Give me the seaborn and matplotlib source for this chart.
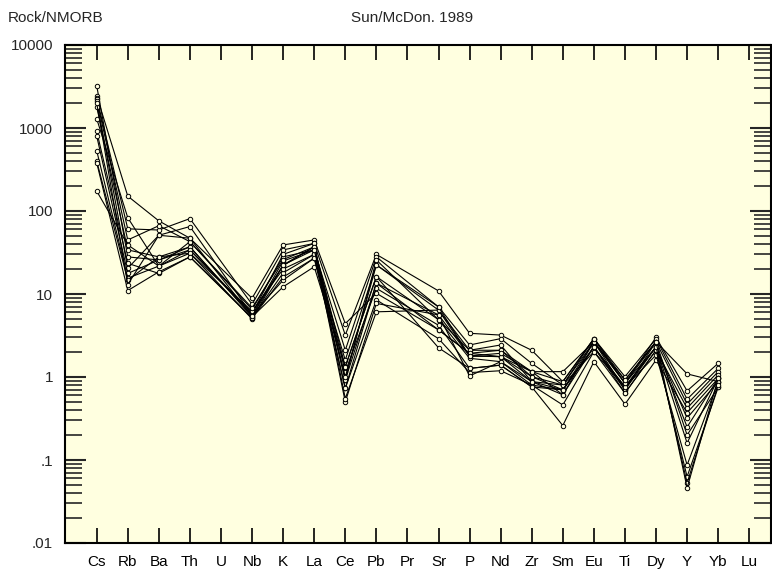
import matplotlib
matplotlib.use("Agg")
import matplotlib.pyplot as plt
import matplotlib.ticker as mticker
import seaborn as sns
import numpy as np
import pandas as pd

# element order of the spider diagram (U, Pr, Lu carry no data)
elements = ["Cs", "Rb", "Ba", "Th", "U", "Nb", "K", "La", "Ce", "Pb", "Pr",
            "Sr", "P", "Nd", "Zr", "Sm", "Eu", "Ti", "Dy", "Y", "Yb", "Lu"]
measured = ["Cs", "Rb", "Ba", "Th", "Nb", "K", "La", "Ce", "Pb",
            "Sr", "P", "Nd", "Zr", "Sm", "Eu", "Ti", "Dy", "Y", "Yb"]

# rock / N-MORB ratios, one list per sample, in the order of `measured`
s1 = [3236, 28, 25.7, 34, 6.0, 22, 37, 0.92, 13.5, 5.6, 1.79, 1.76, 1.01, 0.70, 2.3, 0.76, 2.3, 0.25, 0.96]
s2 = [2450, 151, 76, 47, 8.9, 39, 44.8, 4.4, 10.2, 3.7, 1.93, 2.1, 1.16, 1.16, 2.66, 0.92, 2.66, 1.09, 0.88]
s3 = [2317, 61, 59, 81, 7.5, 34, 40.7, 3.2, 30, 10.9, 3.36, 3.2, 2.1, 0.88, 2.9, 0.84, 3.0, 0.68, 1.46]
s4 = [2218, 44.8, 66.5, 42.7, 6.5, 28, 34, 2.1, 28, 7.0, 2.43, 2.9, 1.46, 0.80, 2.9, 1.01, 2.9, 0.54, 1.27]
s5 = [2115, 20.4, 51, 65, 5.6, 14.7, 27, 1.6, 22.4, 6.4, 2.1, 2.43, 0.88, 0.61, 2.66, 0.70, 2.66, 0.47, 1.16]
s6 = [1806, 34, 28, 37, 5.3, 12.2, 21.3, 1.33, 16.2, 4.9, 1.68, 1.53, 0.80, 0.46, 2.02, 0.64, 2.1, 0.42, 1.06]
s7 = [1294, 83, 21.7, 31, 5.0, 22.4, 37, 1.16, 11.7, 4.2, 1.27, 1.39, 0.76, 0.26, 1.53, 0.47, 1.6, 0.37, 0.96]
s8 = [912, 23.4, 17.7, 28, 5.2, 18, 30, 0.73, 8.5, 2.9, 1.13, 1.19, 0.80, 0.70, 2.3, 0.76, 2.3, 0.32, 0.88]
s9 = [801, 17.7, 25.7, 37, 5.5, 25, 34, 0.50, 7.7, 5.6, 1.03, 1.53, 0.88, 0.80, 2.66, 0.84, 2.66, 0.20, 0.75]
s10 = [533, 15.5, 21.7, 34, 5.8, 30, 40.7, 0.55, 6.1, 6.4, 1.79, 1.76, 1.16, 0.61, 2.3, 0.70, 2.3, 0.16, 0.96]
s11 = [400, 14.7, 28, 31, 6.2, 20, 30, 0.92, 25.7, 4.9, 2.1, 2.1, 1.01, 0.80, 2.02, 0.76, 1.84, 0.087, 0.88]
s12 = [382, 11, 18.5, 28, 5.1, 16, 27, 0.73, 13.5, 3.7, 1.93, 1.76, 0.88, 0.70, 2.3, 0.64, 2.1, 0.063, 0.75]
s13 = [174, 39, 21.7, 42.7, 6.8, 26, 37, 1.33, 16.2, 2.25, 1.27, 1.39, 0.76, 0.70, 2.66, 0.84, 2.3, 0.053, 0.80]
s14 = [2000, 13, 51, 47, 5.4, 22.4, 34, 1.0, 22.4, 7.0, 1.79, 1.93, 1.16, 0.88, 2.9, 0.92, 2.66, 0.046, 0.96]
samples = [s1, s2, s3, s4, s5, s6, s7, s8, s9, s10, s11, s12, s13, s14]

ytick_vals = [0.01, 0.1, 1, 10, 100, 1000, 10000]
ytick_labels = [".01", ".1", "1", "10", "100", "1000", "10000"]

rows = []
for i, s in enumerate(samples):
    for el, v in zip(measured, s):
        rows.append({"sample": i, "pos": elements.index(el), "value": v})
df = pd.DataFrame(rows)

sns.set_style("ticks")
plt.rcParams["font.family"] = ["Liberation Sans Narrow", "Liberation Sans", "DejaVu Sans"]

fig = plt.figure(figsize=(7.72, 5.70), dpi=100)
ax = fig.add_axes([65 / 772, 27 / 570, 706 / 772, 498 / 570])
ax.set_facecolor("#ffffe0")

sns.lineplot(data=df, x="pos", y="value", units="sample", estimator=None,
             color="black", lw=0.8, marker="o", markersize=3.2,
             markerfacecolor="#ffffe0", markeredgecolor="black",
             markeredgewidth=0.7, ax=ax, legend=False)

ax.set_yscale("log")
ax.set_ylim(0.01, 10000)
ax.set_xlim(-1.02, 21.7)
ax.set_xticks(range(len(elements)))
ax.set_xticklabels(elements)
ax.yaxis.set_major_locator(mticker.FixedLocator(ytick_vals))
ax.yaxis.set_major_formatter(mticker.FixedFormatter(ytick_labels))
ax.yaxis.set_minor_locator(mticker.LogLocator(base=10, subs=np.arange(2, 10), numticks=20))
ax.yaxis.set_minor_formatter(mticker.NullFormatter())
ax.set_xlabel("")
ax.set_ylabel("")

ax.tick_params(axis="x", direction="in", length=11, width=1.2, top=True,
               labelsize=11, pad=8.5, colors="black")
ax.tick_params(axis="y", which="major", direction="in", length=15, width=1.5,
               right=True, labelsize=11, pad=8.6)
ax.tick_params(axis="y", which="minor", direction="in", length=12, width=1.2,
               right=True)
for sp in ax.spines.values():
    sp.set_visible(True)
    sp.set_linewidth(1.5)
    sp.set_color("black")

fig.text(8 / 772, 1 - 18 / 570, "Rock/NMORB", fontsize=11, va="center", ha="left")
fig.text(412 / 772, 1 - 18 / 570, "Sun/McDon. 1989", fontsize=11, va="center", ha="center")

plt.savefig("out.png", dpi=100)
plt.close()
